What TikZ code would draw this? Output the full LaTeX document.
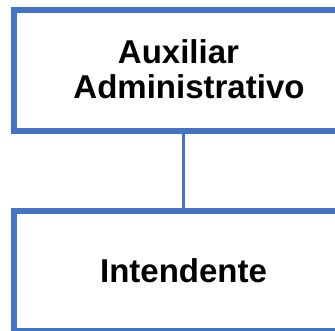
\documentclass[tikz,border=0pt]{standalone}
\usepackage{fontspec}
\setmainfont{Liberation Sans}
\definecolor{boxblue}{HTML}{4472C4}
\begin{document}
\begin{tikzpicture}[x=1pt,y=-1pt,
  orgbox/.style={draw=boxblue, line width=6pt, fill=white, minimum width=339pt, inner sep=0pt},
  lbl/.style={font=\fontsize{33}{35}\selectfont\bfseries, anchor=base, inner sep=0pt},
  link/.style={draw=boxblue, line width=3.5pt}]
\useasboundingbox (0,0) rectangle (335,330);
\clip (0,0) rectangle (335,330);
\node[orgbox, minimum height=121pt] (a) at (183.5,70.5) {};
\node[orgbox, minimum height=120pt] (b) at (183.5,271) {};
\draw[link] (a.south) -- (b.north);
\node[lbl] (t1) at (178.5,63) {Auxiliar};
\node[lbl] (t2) at (189,98) {Administrativo};
\node[lbl] (t3) at (183.5,282.5) {Intendente};
\end{tikzpicture}
\end{document}
